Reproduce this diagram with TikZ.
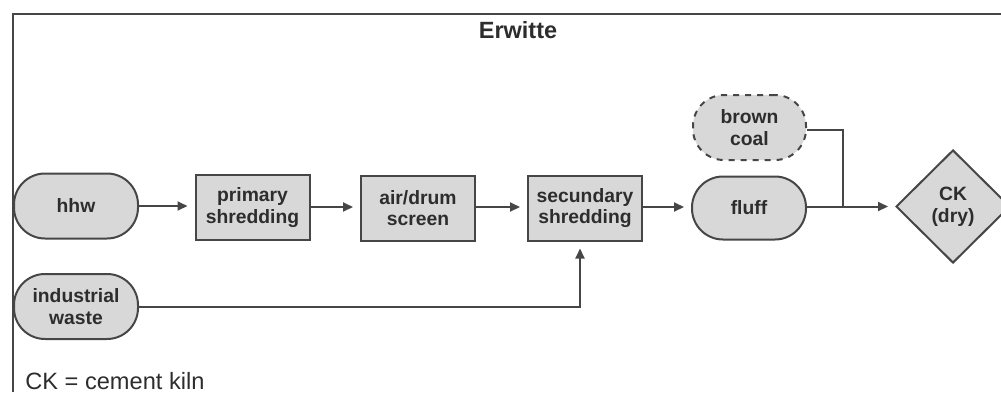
\documentclass[tikz,border=0pt]{standalone}
\usepackage{fontspec}
\setmainfont{Liberation Sans}
\usetikzlibrary{shapes.geometric,arrows.meta}
\definecolor{boxfill}{RGB}{216,216,216}
\definecolor{edge}{RGB}{70,70,70}
\definecolor{ink}{RGB}{45,45,45}
\begin{document}
\begin{tikzpicture}[x=0.5pt,y=-0.5pt,
  every node/.style={text=ink, font=\fontsize{9.65}{10.9}\selectfont\bfseries, align=center, inner sep=0pt},
  pill/.style={draw=edge, line width=1pt, fill=boxfill, rounded corners=15.5pt, minimum width=62pt, minimum height=32.5pt},
  procbox/.style={draw=edge, line width=1pt, fill=boxfill, minimum width=57pt, minimum height=32.5pt},
  kiln/.style={diamond, draw=edge, line width=1pt, fill=boxfill, minimum width=57pt, minimum height=56.5pt},
  flow/.style={draw=edge, line width=1pt, -{Triangle[length=5pt,width=4.5pt]}, shorten >=3.5pt},
  link/.style={draw=edge, line width=1pt}]
  \useasboundingbox (0,0) rectangle (1001,392);
  % frame, open to the right and bottom
  \draw[edge, line width=1.2pt] (13,392) -- (13,14) -- (1001,14);
  \node (title) at (518,30) {\fontsize{11.75}{13}\selectfont Erwitte};
  % input streams and process steps
  \node[pill] (hhw) at (76,206) {hhw};
  \node[procbox] (prim) at (252.5,207.5) {primary\\shredding};
  \node[procbox] (air) at (418,208) {air/drum\\screen};
  \node[procbox] (sec) at (585,208) {secundary\\shredding};
  \node[pill, minimum width=57pt, minimum height=31.5pt] (fluff) at (749,208) {fluff};
  \node[pill, dashed, minimum width=56.5pt] (coal) at (749.5,127.5) {brown\\coal};
  \node[kiln] (ck) at (953,206.5) {CK\\(dry)};
  \node[pill] (ind) at (76,306.5) {industrial\\waste};
  % connectors
  \draw[flow] (hhw.east |- 0,206) -- (prim.west |- 0,206);
  \draw[flow] (prim.east |- 0,207) -- (air.west |- 0,207);
  \draw[flow] (air.east |- 0,207) -- (sec.west |- 0,207);
  \draw[flow] (sec.east |- 0,207) -- (fluff.west |- 0,207);
  \coordinate (join) at (843,206.5);
  \draw[flow] (fluff.east |- join) -- (ck.west);
  \draw[link] (coal.east |- 0,130) -| (join);
  \draw[flow] (ind.east) -| (sec.south -| 580,0);
  % legend
  \node[anchor=west, font=\fontsize{11.8}{13}\selectfont] (legend) at (25,381) {CK = cement kiln};
\end{tikzpicture}
\end{document}
